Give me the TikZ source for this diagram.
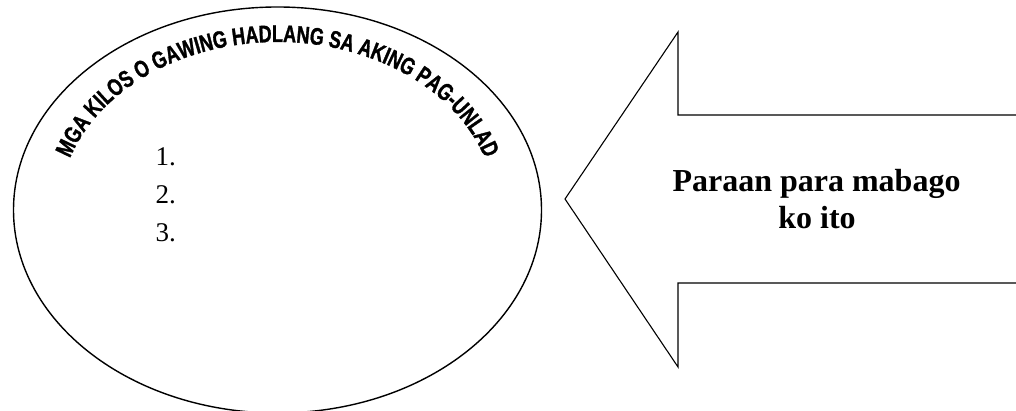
\documentclass[tikz,border=0pt]{standalone}
\usepackage{fontspec}
\setmainfont{Liberation Serif}
\newfontfamily\archfont[FakeStretch=0.75,FakeBold=1.2]{Liberation Sans Bold}
\usetikzlibrary{decorations.text,shapes.geometric}
\tikzset{
  outline/.style={draw=black,line width=1.4pt},
  arrowshape/.style={draw=black,line width=1.1pt,line join=miter},
  listtext/.style={anchor=base west,inner sep=0pt,font=\fontsize{27}{30}\selectfont},
  arrowtext/.style={anchor=base,inner sep=0pt,font=\bfseries\fontsize{32}{37}\selectfont},
}
\begin{document}
\begin{tikzpicture}[x=1pt,y=1pt]
\useasboundingbox (0,0) rectangle (1016,411);
% oval
\node[outline,ellipse,minimum width=528pt,minimum height=406pt,inner sep=0pt] (oval) at (277.5,201) {};
% curved title
\coordinate (arcstart) at (72.6,143.5);
\path[decorate,decoration={text along path,text align=center,
  text={|\archfont\fontsize{24}{24}\selectfont|MGA KILOS O GAWING HADLANG SA AKING PAG-UNLAD}}]
  (arcstart) arc[start angle=200,end angle=-20,x radius=218pt,y radius=168pt];
% list
\node[listtext] (n1) at (155.5,245) {1.};
\node[listtext] (n2) at (155.5,207) {2.};
\node[listtext] (n3) at (155.5,169.5) {3.};
% arrow
\coordinate (tip) at (565,212);
\coordinate (headtop) at (678,379);
\coordinate (shafttopin) at (678,296);
\coordinate (shafttopout) at (1020,296);
\coordinate (shaftbotout) at (1020,128);
\coordinate (shaftbotin) at (678,128);
\coordinate (headbot) at (678,44);
\draw[arrowshape] (shafttopout) -- (shafttopin) -- (headtop) -- (tip) -- (headbot) -- (shaftbotin) -- (shaftbotout);
\node[arrowtext] (t1) at (816.5,219) {Paraan para mabago};
\node[arrowtext] (t2) at (817,182) {ko ito};
\end{tikzpicture}
\end{document}
